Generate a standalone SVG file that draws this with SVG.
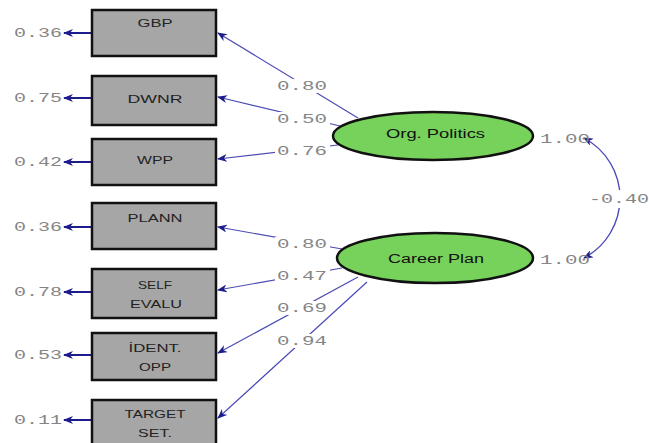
<svg xmlns="http://www.w3.org/2000/svg" width="649" height="443" viewBox="0 0 649 443">
<defs>
<marker id="ah" viewBox="0 0 10 8" refX="9" refY="4" markerWidth="10" markerHeight="8" markerUnits="userSpaceOnUse" orient="auto-start-reverse">
<path d="M0,0 L10,4 L0,8 L3,4 Z" fill="#1c1c8c"/>
</marker>
<style>
.box{fill:#a6a6a6;stroke:#111;stroke-width:2.5}
.ell{fill:#77d25b;stroke:#111;stroke-width:2.5}
.bt{font-family:"Liberation Sans",Arial,sans-serif;font-size:11px;fill:#222;text-anchor:middle}
.et{font-family:"Liberation Sans",Arial,sans-serif;font-size:12px;fill:#111}
.num{font-family:"Liberation Mono","Courier New",monospace;font-size:13px;fill:#858585}
.bg{fill:#fff}
.ld{stroke:#4a4ab4;stroke-width:1.2;fill:none;marker-end:url(#ah)}
.cv{stroke:#4a4ab4;stroke-width:1.4;fill:none;marker-start:url(#ah);marker-end:url(#ah)}
.er{stroke:#1c1c8c;stroke-width:2;fill:none;marker-end:url(#ah)}
</style>
</defs>
<rect width="649" height="443" fill="#fff"/>
<g id="connectors">
<line class="er" x1="92" y1="33" x2="64" y2="33"/>
<line class="er" x1="92" y1="98" x2="64" y2="98"/>
<line class="er" x1="92" y1="162" x2="64" y2="162"/>
<line class="er" x1="92" y1="227" x2="64" y2="227"/>
<line class="er" x1="92" y1="292" x2="64" y2="292"/>
<line class="er" x1="92" y1="355" x2="64" y2="355"/>
<line class="er" x1="92" y1="420" x2="64" y2="420"/>
<line class="ld" x1="358" y1="118" x2="218" y2="33"/>
<line class="ld" x1="340" y1="126" x2="218" y2="97"/>
<line class="ld" x1="338" y1="145" x2="218" y2="159"/>
<line class="ld" x1="342" y1="249" x2="218" y2="227"/>
<line class="ld" x1="342" y1="268" x2="218" y2="290"/>
<line class="ld" x1="358" y1="277" x2="218" y2="353"/>
<line class="ld" x1="367" y1="282" x2="218" y2="418"/>
<path class="cv" d="M584,138 A68,68 0 0 1 584,258"/>
</g>
<g id="GBP"><rect class="box" x="92" y="10" width="124" height="46"/><text class="bt" x="155" y="27" textLength="35" lengthAdjust="spacingAndGlyphs">GBP</text></g>
<g id="DWNR"><rect class="box" x="92" y="76" width="124" height="49"/><text class="bt" x="155" y="103" textLength="55" lengthAdjust="spacingAndGlyphs">DWNR</text></g>
<g id="WPP"><rect class="box" x="92" y="139" width="124" height="46"/><text class="bt" x="155" y="164" textLength="36" lengthAdjust="spacingAndGlyphs">WPP</text></g>
<g id="PLANN"><rect class="box" x="92" y="203" width="124" height="46"/><text class="bt" x="155" y="222" textLength="55" lengthAdjust="spacingAndGlyphs">PLANN</text></g>
<g id="SELFEVALU"><rect class="box" x="92" y="269" width="124" height="49"/><text class="bt" x="155" y="289" textLength="34" lengthAdjust="spacingAndGlyphs">SELF</text><text class="bt" x="156" y="308" textLength="52" lengthAdjust="spacingAndGlyphs">EVALU</text></g>
<g id="IDENTOPP"><rect class="box" x="92" y="333" width="124" height="47"/><text class="bt" x="155" y="352" textLength="53" lengthAdjust="spacingAndGlyphs">İDENT.</text><text class="bt" x="155" y="371" textLength="32" lengthAdjust="spacingAndGlyphs">OPP</text></g>
<g id="TARGETSET"><rect class="box" x="92" y="400" width="124" height="50"/><text class="bt" x="155" y="418" textLength="61" lengthAdjust="spacingAndGlyphs">TARGET</text><text class="bt" x="155" y="437" textLength="34" lengthAdjust="spacingAndGlyphs">SET.</text></g>
<g id="OrgPolitics"><ellipse class="ell" cx="433" cy="136" rx="100" ry="24"/><text class="et" x="386" y="138" textLength="99" lengthAdjust="spacingAndGlyphs">Org. Politics</text></g>
<g id="CareerPlan"><ellipse class="ell" cx="435" cy="258" rx="98" ry="25"/><text class="et" x="388" y="263" textLength="96" lengthAdjust="spacingAndGlyphs">Career Plan</text></g>
<g id="labels">
<text class="num" x="14" y="37" textLength="48" lengthAdjust="spacingAndGlyphs">0.36</text>
<text class="num" x="14" y="102" textLength="48" lengthAdjust="spacingAndGlyphs">0.75</text>
<text class="num" x="14" y="166" textLength="48" lengthAdjust="spacingAndGlyphs">0.42</text>
<text class="num" x="14" y="231" textLength="48" lengthAdjust="spacingAndGlyphs">0.36</text>
<text class="num" x="14" y="296" textLength="48" lengthAdjust="spacingAndGlyphs">0.78</text>
<text class="num" x="14" y="359" textLength="48" lengthAdjust="spacingAndGlyphs">0.53</text>
<text class="num" x="14" y="424" textLength="48" lengthAdjust="spacingAndGlyphs">0.11</text>
<rect class="bg" x="275" y="79" width="55" height="14"/>
<rect class="bg" x="275" y="112" width="55" height="14"/>
<rect class="bg" x="275" y="144" width="55" height="14"/>
<rect class="bg" x="275" y="237" width="55" height="14"/>
<rect class="bg" x="275" y="269" width="55" height="14"/>
<rect class="bg" x="275" y="301" width="55" height="14"/>
<rect class="bg" x="275" y="334" width="55" height="14"/>
<rect class="bg" x="588" y="190" width="61" height="18"/>
<text class="num" x="277" y="90" textLength="50" lengthAdjust="spacingAndGlyphs">0.80</text>
<text class="num" x="277" y="123" textLength="50" lengthAdjust="spacingAndGlyphs">0.50</text>
<text class="num" x="277" y="155" textLength="50" lengthAdjust="spacingAndGlyphs">0.76</text>
<text class="num" x="277" y="248" textLength="50" lengthAdjust="spacingAndGlyphs">0.80</text>
<text class="num" x="277" y="280" textLength="50" lengthAdjust="spacingAndGlyphs">0.47</text>
<text class="num" x="277" y="312" textLength="50" lengthAdjust="spacingAndGlyphs">0.69</text>
<text class="num" x="277" y="345" textLength="50" lengthAdjust="spacingAndGlyphs">0.94</text>
<text class="num" x="540" y="143" textLength="50" lengthAdjust="spacingAndGlyphs">1.00</text>
<text class="num" x="540" y="264" textLength="50" lengthAdjust="spacingAndGlyphs">1.00</text>
<text class="num" x="589" y="203" textLength="60" lengthAdjust="spacingAndGlyphs">-0.40</text>
</g>
</svg>
